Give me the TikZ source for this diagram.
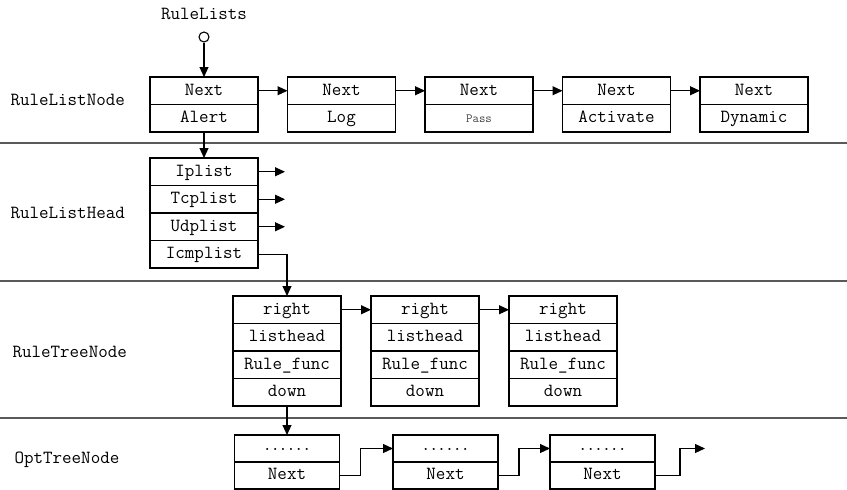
\documentclass[tikz,border=0pt]{standalone}
\usepackage{tikz}
\usetikzlibrary{positioning, arrows.meta}
\tikzset{
    cell/.style={rectangle, draw=black, line width=1.2pt, minimum width=108pt, minimum height=27.5pt, inner sep=0pt, outer sep=0pt, text height=12pt, text depth=3.5pt, font=\ttfamily\fontsize{18.5}{20}\selectfont},
    link/.style={-{Triangle[length=10pt,width=9pt]}, line width=1.1pt, black},
    layer/.style={line width=1.5pt, gray!70!black}
}

\begin{document}
\begin{tikzpicture}[
		x=1pt, y=-1pt,
		% Nhãn của các tầng
		tag/.style={anchor=west, font=\ttfamily\fontsize{18.5}{20}\selectfont},
		% Ô của hàng OptTreeNode
		optcell/.style={cell, minimum width=105pt, minimum height=27pt},
		% Điểm gốc
		root/.style={circle, draw, line width=1.1pt, minimum size=10pt, inner sep=0pt}
		]
		\useasboundingbox (0,0) rectangle (847,490);
		
		% Các đường phân tầng
		\draw[layer] (0,143) -- (847,143);
		\draw[layer] (0,281) -- (847,281);
		\draw[layer] (0,418) -- (847,418);
		
		% Nhãn
		\node (lbl-node) [tag] at (7,100) {RuleListNode};
		\node (lbl-head) [tag] at (7,213) {RuleListHead};
		\node (lbl-tree) [tag] at (9,352) {RuleTreeNode};
		\node (lbl-opt) [tag] at (11,460) {OptTreeNode};
		
		% Tầng RuleListNode
		\node (lists) [tag, anchor=center] at (204,14) {RuleLists};
		\node (head) [root] at (204,37) {};
		\node (rln1-next) [cell] at (204,90.75) {Next};
		\node (rln1-kind) [cell, below=0pt of rln1-next] {Alert};
		\node (rln2-next) [cell, right=29.5pt of rln1-next] {Next};
		\node (rln2-kind) [cell, below=0pt of rln2-next] {Log};
		\node (rln3-next) [cell, right=29.5pt of rln2-next] {Next};
		\node (rln3-kind) [cell, below=0pt of rln3-next, font=\ttfamily\fontsize{12.5}{14}\selectfont, text=black!75] {Pass};
		\node (rln4-next) [cell, right=29.5pt of rln3-next] {Next};
		\node (rln4-kind) [cell, below=0pt of rln4-next] {Activate};
		\node (rln5-next) [cell, right=29.5pt of rln4-next] {Next};
		\node (rln5-kind) [cell, below=0pt of rln5-next] {Dynamic};
		
		% Tầng RuleListHead
		\node (rlh-ip) [cell] at (204,171.75) {Iplist};
		\node (rlh-tcp) [cell, below=0pt of rlh-ip] {Tcplist};
		\node (rlh-udp) [cell, below=0pt of rlh-tcp] {Udplist};
		\node (rlh-icmp) [cell, below=0pt of rlh-udp] {Icmplist};
		\coordinate (ip-end) at ([xshift=27pt]rlh-ip.east);
		\coordinate (tcp-end) at ([xshift=27pt]rlh-tcp.east);
		\coordinate (udp-end) at ([xshift=27pt]rlh-udp.east);
		
		% Tầng RuleTreeNode
		\foreach \i/\x in {1/287, 2/425, 3/563} {
			\node (rtn\i-right) [cell] at (\x,309.75) {right};
			\node (rtn\i-list) [cell, below=0pt of rtn\i-right] {listhead};
			\node (rtn\i-func) [cell, below=0pt of rtn\i-list] {Rule\_func};
			\node (rtn\i-down) [cell, below=0pt of rtn\i-func] {down};
		}
		
		% Tầng OptTreeNode
		\foreach \i/\x in {1/287, 2/445.5, 3/602.5} {
			\node (otn\i-dots) [optcell, text height=3pt, text depth=0pt, font=\ttfamily\bfseries\fontsize{15}{16}\selectfont] at (\x,448.5) {......};
			\node (otn\i-next) [optcell, below=0pt of otn\i-dots] {Next};
		}
		\coordinate (opt-end) at ([xshift=50pt]otn3-dots.east);
		
		% Các mũi tên
		\draw [link] (head) -- (rln1-next);
		\draw [link] (rln1-next) -- (rln2-next);
		\draw [link] (rln2-next) -- (rln3-next);
		\draw [link] (rln3-next) -- (rln4-next);
		\draw [link] (rln4-next) -- (rln5-next);
		\draw [link] (rln1-kind) -- (rlh-ip);
		\draw [link] (rlh-ip) -- (ip-end);
		\draw [link] (rlh-tcp) -- (tcp-end);
		\draw [link] (rlh-udp) -- (udp-end);
		\draw [link] (rlh-icmp.east) -| (rtn1-right.north);
		\draw [link] (rtn1-right) -- (rtn2-right);
		\draw [link] (rtn2-right) -- (rtn3-right);
		\draw [link] (rtn1-down) -- (otn1-dots);
		\draw [link] (otn1-next.east) -- ++(21,0) |- (otn2-dots.west);
		\draw [link] (otn2-next.east) -- ++(21,0) |- (otn3-dots.west);
		\draw [link] (otn3-next.east) -- ++(25,0) |- (opt-end);
		
	\end{tikzpicture}
\end{document}
